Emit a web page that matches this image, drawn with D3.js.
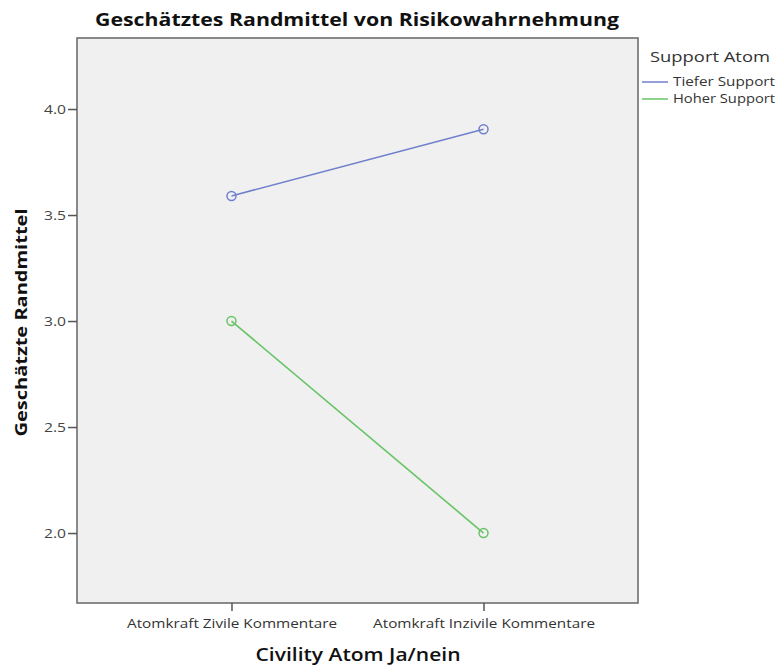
<!DOCTYPE html>
<html>
<head>
<meta charset="utf-8">
<script src="https://cdn.jsdelivr.net/npm/d3@7"></script>
<style>
  html, body { margin: 0; padding: 0; background: #fff; }
  svg { display: block; }
  text { font-family: "Open Sans", "DejaVu Sans", sans-serif; }
</style>
</head>
<body>
<svg id="chart" width="779" height="668"></svg>
<script>
const categories = ["Atomkraft Zivile Kommentare", "Atomkraft Inzivile Kommentare"];
const seriesNames = ["Tiefer Support", "Hoher Support"];
const tieferSupport = [3.59, 3.905];
const hoherSupport = [3.00, 2.00];
const yTicks = [2.0, 2.5, 3.0, 3.5, 4.0];
const seriesColors = ["#6f80cc", "#66c466"];

const svg = d3.select("#chart");
const plot = { left: 77, top: 38, right: 638, bottom: 603 };

const x = d3.scalePoint().domain(categories).range([plot.left, plot.right]).padding(0.613);
const y = d3.scaleLinear().domain([1.67, 4.335]).range([plot.bottom, plot.top]);

// background panel
svg.append("rect")
  .attr("x", plot.left).attr("y", plot.top)
  .attr("width", plot.right - plot.left).attr("height", plot.bottom - plot.top)
  .attr("fill", "#f0f0f0").attr("stroke", "#6e6e6e").attr("stroke-width", 1.6);

// y axis
const yAxis = svg.append("g")
  .attr("transform", `translate(${plot.left},0)`)
  .call(d3.axisLeft(y).tickValues(yTicks).tickFormat(d3.format(".1f")).tickSize(9).tickPadding(2));
yAxis.select(".domain").remove();
yAxis.selectAll(".tick line").attr("stroke", "#555").attr("stroke-width", 1.5);
yAxis.selectAll(".tick text").attr("fill", "#444").style("font-size", "12.5px")
  .style("font-family", "'Open Sans', sans-serif")
  .attr("textLength", 22).attr("lengthAdjust", "spacingAndGlyphs");

// x axis
const xAxis = svg.append("g")
  .attr("transform", `translate(0,${plot.bottom})`)
  .call(d3.axisBottom(x).tickSize(8).tickPadding(8));
xAxis.select(".domain").remove();
xAxis.selectAll(".tick line").attr("stroke", "#555").attr("stroke-width", 1.5);
xAxis.selectAll(".tick text").attr("fill", "#333").style("font-size", "12.5px")
  .style("font-family", "'Open Sans', sans-serif")
  .attr("textLength", (d, i) => i === 0 ? 210 : 222)
  .attr("lengthAdjust", "spacingAndGlyphs");

// lines
const series = [
  { name: seriesNames[0], values: tieferSupport, color: seriesColors[0] },
  { name: seriesNames[1], values: hoherSupport, color: seriesColors[1] }
];
const line = d3.line().x((d, i) => x(categories[i])).y(d => y(d));

series.forEach(s => {
  svg.append("path")
    .attr("d", line(s.values))
    .attr("fill", "none").attr("stroke", s.color).attr("stroke-width", 1.6);
  svg.selectAll(null).data(s.values).enter().append("circle")
    .attr("cx", (d, i) => x(categories[i]))
    .attr("cy", d => y(d))
    .attr("r", 4.5)
    .attr("fill", "none").attr("stroke", s.color).attr("stroke-width", 1.5);
});

// title
svg.append("text")
  .attr("x", 357).attr("y", 26)
  .attr("text-anchor", "middle")
  .attr("fill", "#111")
  .style("font-size", "18px").style("font-weight", "bold")
  .attr("textLength", 524).attr("lengthAdjust", "spacingAndGlyphs")
  .text("Geschätztes Randmittel von Risikowahrnehmung");

// y axis title
svg.append("text")
  .attr("transform", `translate(27,${(plot.top + plot.bottom) / 2 + 2}) rotate(-90)`)
  .attr("text-anchor", "middle")
  .attr("fill", "#111")
  .style("font-size", "16px").style("font-weight", "bold")
  .attr("textLength", 228).attr("lengthAdjust", "spacingAndGlyphs")
  .text("Geschätzte Randmittel");

// x axis title
svg.append("text")
  .attr("x", 358).attr("y", 661)
  .attr("text-anchor", "middle")
  .attr("fill", "#111")
  .style("font-size", "18px").style("font-weight", "600")
  .attr("textLength", 205).attr("lengthAdjust", "spacingAndGlyphs")
  .text("Civility Atom Ja/nein");

// legend
svg.append("text")
  .attr("x", 650).attr("y", 62)
  .attr("fill", "#333")
  .style("font-size", "15px")
  .attr("textLength", 120).attr("lengthAdjust", "spacingAndGlyphs")
  .text("Support Atom");

const legend = svg.append("g");
series.forEach((s, i) => {
  const ly = 82 + i * 17;
  legend.append("line")
    .attr("x1", 642).attr("x2", 668).attr("y1", ly).attr("y2", ly)
    .attr("stroke", s.color).attr("stroke-width", 1.5);
  legend.append("text")
    .attr("x", 673).attr("y", ly + 4)
    .attr("fill", "#333")
    .style("font-size", "12px")
    .attr("textLength", 102).attr("lengthAdjust", "spacingAndGlyphs")
    .text(s.name);
});
</script>
</body>
</html>
